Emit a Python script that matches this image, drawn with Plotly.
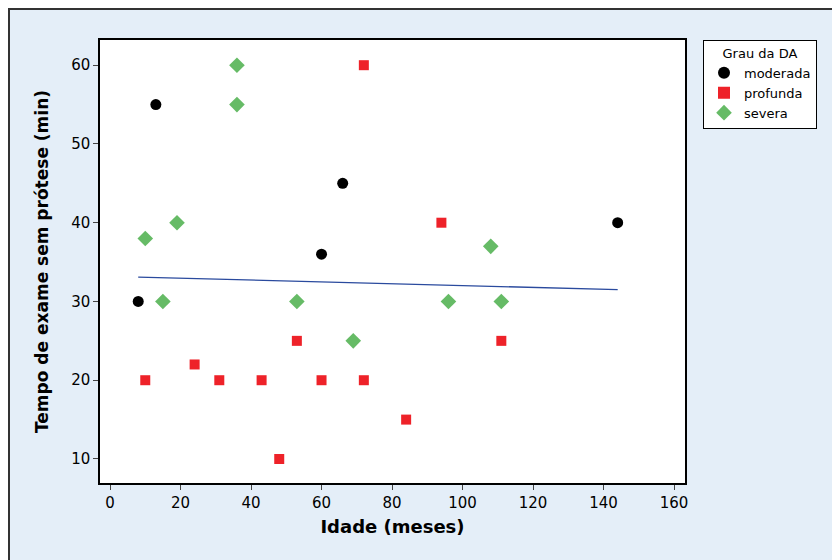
import numpy as np
import plotly.graph_objects as go

# Data
mod_x = [8, 13, 60, 66, 144]
mod_y = [30, 55, 36, 45, 40]

prof_x = [10, 24, 31, 43, 48, 53, 60, 72, 72, 84, 94, 111]
prof_y = [20, 22, 20, 20, 10, 25, 20, 20, 60, 15, 40, 25]

sev_x = [10, 15, 19, 36, 36, 53, 69, 96, 108, 111]
sev_y = [38, 30, 40, 60, 55, 30, 25, 30, 37, 30]

x_ticks = [0, 20, 40, 60, 80, 100, 120, 140, 160]
y_ticks = [10, 20, 30, 40, 50, 60]

all_x = np.array(mod_x + prof_x + sev_x, dtype=float)
all_y = np.array(mod_y + prof_y + sev_y, dtype=float)
slope, intercept = np.polyfit(all_x, all_y, 1)
fit_x = np.array([all_x.min(), all_x.max()])
fit_y = intercept + slope * fit_x

FONT = "DejaVu Sans"
W, H = 832, 552
L, T, PW, PH = 92, 32, 585, 443
R, B = W - L - PW, H - T - PH

fig = go.Figure()
fig.add_trace(go.Scatter(x=mod_x, y=mod_y, mode="markers", name="moderada",
                         marker=dict(symbol="circle", size=11, color="black")))
fig.add_trace(go.Scatter(x=prof_x, y=prof_y, mode="markers", name="profunda",
                         marker=dict(symbol="square", size=10, color="#EE2229")))
fig.add_trace(go.Scatter(x=sev_x, y=sev_y, mode="markers", name="severa",
                         marker=dict(symbol="diamond", size=12, color="#66BB66")))
fig.add_trace(go.Scatter(x=fit_x, y=fit_y, mode="lines", showlegend=False,
                         line=dict(color="#2A4A9E", width=1.3)))

# outer frame (left and top edges visible)
fig.add_shape(type="rect", xref="paper", yref="paper",
              x0=(1 - L) / PW, x1=(W + 40 - L) / PW,
              y0=(T + PH - H - 40) / PH, y1=(T + PH - 1) / PH,
              line=dict(color="#333333", width=2), fillcolor="rgba(0,0,0,0)",
              layer="below")

fig.update_layout(
    width=W, height=H,
    margin=dict(l=L, r=R, t=T, b=B),
    paper_bgcolor="#E4EEF8",
    plot_bgcolor="white",
    font=dict(family=FONT, size=15, color="black"),
    legend=dict(
        x=(703 - 100) / PW, y=1, xanchor="left", yanchor="top",
        bgcolor="white", bordercolor="black", borderwidth=1,
        font=dict(family=FONT, size=13),
        title=dict(text="Grau da DA", side="top center", font=dict(family=FONT, size=13)),
        itemsizing="constant", tracegroupgap=0,
        entrywidth=85, entrywidthmode="pixels",
    ),
    xaxis=dict(
        range=[-2.84, 163.1], tickvals=x_ticks, ticks="outside", ticklen=5,
        showline=True, linecolor="black", linewidth=1.5, mirror=True,
        showgrid=False, zeroline=False,
        title=dict(text="<b>Idade (meses)</b>", font=dict(family=FONT, size=18), standoff=10),
        tickfont=dict(family=FONT, size=15),
    ),
    yaxis=dict(
        range=[6.95, 63.2], tickvals=y_ticks, ticks="outside", ticklen=5,
        showline=True, linecolor="black", linewidth=1.5, mirror=True,
        showgrid=False, zeroline=False,
        title=dict(text="<b>Tempo de exame sem prótese (min)</b>", font=dict(family=FONT, size=17), standoff=18),
        tickfont=dict(family=FONT, size=15),
    ),
)

fig.write_html("out.html")
